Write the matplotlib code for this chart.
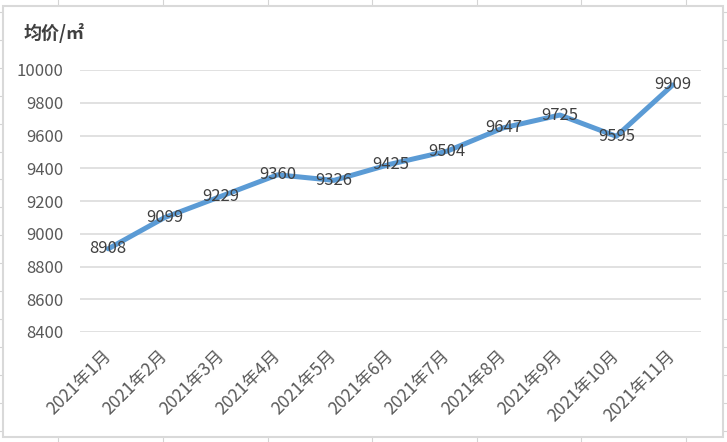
import matplotlib.pyplot as plt
from matplotlib.lines import Line2D
from matplotlib.patches import Rectangle

plt.rcParams['font.family'] = ['Noto Sans CJK SC', 'DejaVu Sans']

months = ['2021年1月', '2021年2月', '2021年3月', '2021年4月', '2021年5月', '2021年6月',
          '2021年7月', '2021年8月', '2021年9月', '2021年10月', '2021年11月']
prices = [8908, 9099, 9229, 9360, 9326, 9425, 9504, 9647, 9725, 9595, 9909]
y_ticks = [8400, 8600, 8800, 9000, 9200, 9400, 9600, 9800, 10000]

W, H = 727, 442
fig = plt.figure(figsize=(W / 100, H / 100), dpi=100)

# spreadsheet cell grid behind the chart box
cell = '#d4d4d4'
for x in [58, 163, 268, 372, 477, 581, 686]:
    fig.add_artist(Line2D([x / W, x / W], [0, 1], color=cell, lw=0.8, zorder=0))
for i in range(16):
    y = 12 + 27.9 * i
    fig.add_artist(Line2D([0, 1], [1 - y / H, 1 - y / H], color=cell, lw=0.8, zorder=0))

# chart box
fig.add_artist(Rectangle((3 / W, 1 - 437 / H), 720 / W, 431 / H, facecolor='white',
                         edgecolor='#d9d9d9', lw=1.5, zorder=1))

ax = fig.add_axes([80 / W, (H - 332) / H, 621 / W, 262 / H], zorder=2)
ax.set_facecolor('none')
x = list(range(len(months)))
ax.plot(x, prices, color='#5b9bd5', lw=3.6, solid_joinstyle='round', solid_capstyle='round', zorder=3)
for xi, v in zip(x, prices):
    ax.text(xi, v, str(v), ha='center', va='center', fontsize=12, color='#404040', zorder=4)

ax.set_xlim(-0.5, 10.5)
ax.set_ylim(8400, 10000)
ax.set_yticks(y_ticks)
ax.set_xticks(x)
ax.set_xticklabels(months, rotation=45, ha='right', va='center', rotation_mode='anchor')
ax.tick_params(axis='x', length=0, pad=15, labelsize=12.5, labelcolor='#595959')
ax.tick_params(axis='y', length=0, pad=12, labelsize=12, labelcolor='#595959')
ax.grid(axis='y', color='#d9d9d9', lw=1.1)
ax.set_axisbelow(True)
for s in ax.spines.values():
    s.set_visible(False)

fig.text(24 / W, 1 - 33 / H, '均价/㎡', ha='left', va='center', fontsize=13,
         fontweight='bold', color='#404040')

fig.savefig('out.png', dpi=100, facecolor='white')
